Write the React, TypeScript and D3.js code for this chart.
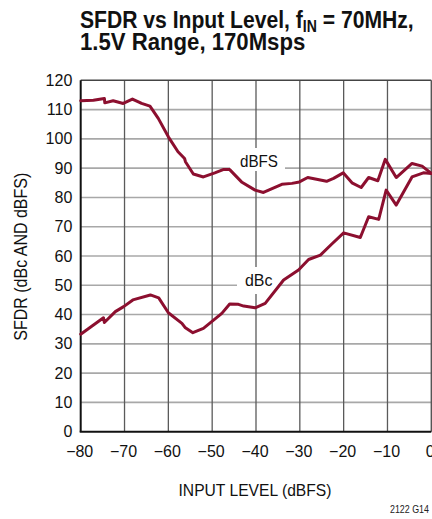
import React from "react";
import * as d3 from "d3";

const xTicks = [-80, -70, -60, -50, -40, -30, -20, -10, 0];
const yTicks = [0, 10, 20, 30, 40, 50, 60, 70, 80, 90, 100, 110, 120];

const dbfsX = [-80, -77.1, -74.6, -74.5, -72.6, -70.3, -68.2, -66.1, -64.2, -62.3, -60.0, -57.8, -56.3, -56.1, -54.3, -52.0, -49.4, -47.5, -46.0, -43.3, -40.2, -38.3, -34.1, -31.8, -30.1, -28.2, -25.9, -23.9, -22.3, -20.1, -18.1, -16.0, -14.3, -12.2, -10.5, -8.0, -4.4, -2.1, 0];
const dbfsY = [113.0, 113.2, 113.8, 112.3, 113.0, 112.1, 113.6, 112.1, 111.2, 107.0, 100.7, 95.6, 93.3, 92.2, 88.0, 87.0, 88.4, 89.5, 89.5, 85.3, 82.5, 81.7, 84.5, 84.8, 85.3, 86.8, 86.1, 85.5, 86.5, 88.4, 85.0, 83.4, 86.8, 85.7, 93.0, 86.8, 91.6, 90.7, 88.2];

const dbcX = [-80, -74.8, -74.6, -72.1, -70.2, -68.1, -64.1, -62.2, -60.0, -56.9, -56.2, -54.4, -52.0, -47.8, -46.0, -44.0, -42.8, -40.2, -37.9, -33.7, -30.3, -28.0, -25.3, -22.7, -20.0, -16.2, -14.3, -12.0, -10.3, -8.0, -4.4, -1.8, 0];
const dbcY = [33.3, 38.9, 37.3, 41.0, 42.7, 45.0, 46.7, 45.7, 40.6, 37.0, 35.6, 33.8, 35.3, 40.4, 43.6, 43.5, 42.9, 42.3, 43.8, 51.8, 55.2, 58.8, 60.3, 64.1, 67.9, 66.3, 73.4, 72.5, 82.5, 77.4, 87.0, 88.4, 88.2];

const W = 432;
const H = 519;
const FONT = "'Liberation Sans', Arial, sans-serif";
const RED = "#8c0f2f";

export default function App() {
  const x = d3.scaleLinear().domain([-80, 0]).range([80.7, 431.3]);
  const y = d3.scaleLinear().domain([0, 120]).range([431.7, 80.3]);
  const line = d3
    .line<[number, number]>()
    .x((d) => x(d[0]))
    .y((d) => y(d[1]))
    .curve(d3.curveLinear);
  const dbfs: [number, number][] = dbfsX.map((v, i) => [v, dbfsY[i]]);
  const dbc: [number, number][] = dbcX.map((v, i) => [v, dbcY[i]]);
  const fmt = (v: number) => (v < 0 ? "\u2212" + Math.abs(v) : String(v));

  return (
    <svg
      width={W}
      height={H}
      style={{ position: "absolute", left: 0, top: 0, background: "#fff" }}
      fontFamily={FONT}
    >
      <rect x={0} y={0} width={W} height={H} fill="#fff" />
      {/* title */}
      <g transform="translate(80,0) scale(0.88,1)" fill="#111" fontWeight="bold">
        <text x={0} y={28.5} fontSize={24}>
          SFDR vs Input Level, f
          <tspan fontSize={16} dy={3.5}>IN</tspan>
          <tspan dy={-3.5}> = 70MHz,</tspan>
        </text>
        <text x={0} y={50} fontSize={24} textLength={256} lengthAdjust="spacingAndGlyphs">
          1.5V Range, 170Msps
        </text>
      </g>

      {/* horizontal grid */}
      {yTicks.slice(1, -1).map((t) => (
        <line key={"h" + t} x1={x(-80)} x2={x(0)} y1={y(t)} y2={y(t)} stroke="#a8a8a8" strokeWidth={1.6} />
      ))}
      {/* vertical grid */}
      {xTicks.slice(1, -1).map((t) => (
        <line key={"v" + t} x1={x(t)} x2={x(t)} y1={y(0)} y2={y(120)} stroke="#5a5a5a" strokeWidth={1.3} />
      ))}
      {/* frame */}
      <line x1={x(-80)} x2={x(0)} y1={y(120)} y2={y(120)} stroke="#444" strokeWidth={1.6} />
      <line x1={x(0)} x2={x(0)} y1={y(0)} y2={y(120)} stroke="#555" strokeWidth={1.4} />
      <line x1={x(-80)} x2={x(-80)} y1={y(0)} y2={y(120)} stroke="#111" strokeWidth={2} />
      <line x1={x(-80) - 1} x2={x(0)} y1={y(0)} y2={y(0)} stroke="#111" strokeWidth={2} />

      {/* label boxes */}
      <rect x={230} y={148} width={55} height={23} fill="#fff" />
      <rect x={237} y={267} width={41} height={27} fill="#fff" />
      <text x={240} y={166.7} fontSize={16.5} fill="#111" textLength={38} lengthAdjust="spacingAndGlyphs">
        dBFS
      </text>
      <text x={245} y={285.7} fontSize={16.5} fill="#111" textLength={27.5} lengthAdjust="spacingAndGlyphs">
        dBc
      </text>

      {/* curves */}
      <path d={line(dbfs) || ""} fill="none" stroke={RED} strokeWidth={3} strokeLinejoin="round" strokeLinecap="round" />
      <path d={line(dbc) || ""} fill="none" stroke={RED} strokeWidth={3} strokeLinejoin="round" strokeLinecap="round" />

      {/* y tick labels */}
      {yTicks.map((t) => (
        <text key={"yl" + t} x={72.3} y={y(t) + 5.6} fontSize={16} textAnchor="end" fill="#111">
          {t}
        </text>
      ))}
      {/* x tick labels */}
      {xTicks.map((t) => (
        <text key={"xl" + t} x={x(t) - 1} y={456.7} fontSize={16} textAnchor="middle" fill="#111">
          {fmt(t)}
        </text>
      ))}

      {/* axis titles */}
      <text x={255} y={496} fontSize={17} textAnchor="middle" fill="#111" textLength={153} lengthAdjust="spacingAndGlyphs">
        INPUT LEVEL (dBFS)
      </text>
      <text
        transform="translate(26.7,256.7) rotate(-90)"
        x={0}
        y={0}
        fontSize={17.5}
        textAnchor="middle"
        fill="#111"
        textLength={168}
        lengthAdjust="spacingAndGlyphs"
      >
        SFDR (dBc AND dBFS)
      </text>
      <text x={429} y={512.7} fontSize={10} textAnchor="end" fill="#222" textLength={39} lengthAdjust="spacingAndGlyphs">
        2122 G14
      </text>
    </svg>
  );
}
